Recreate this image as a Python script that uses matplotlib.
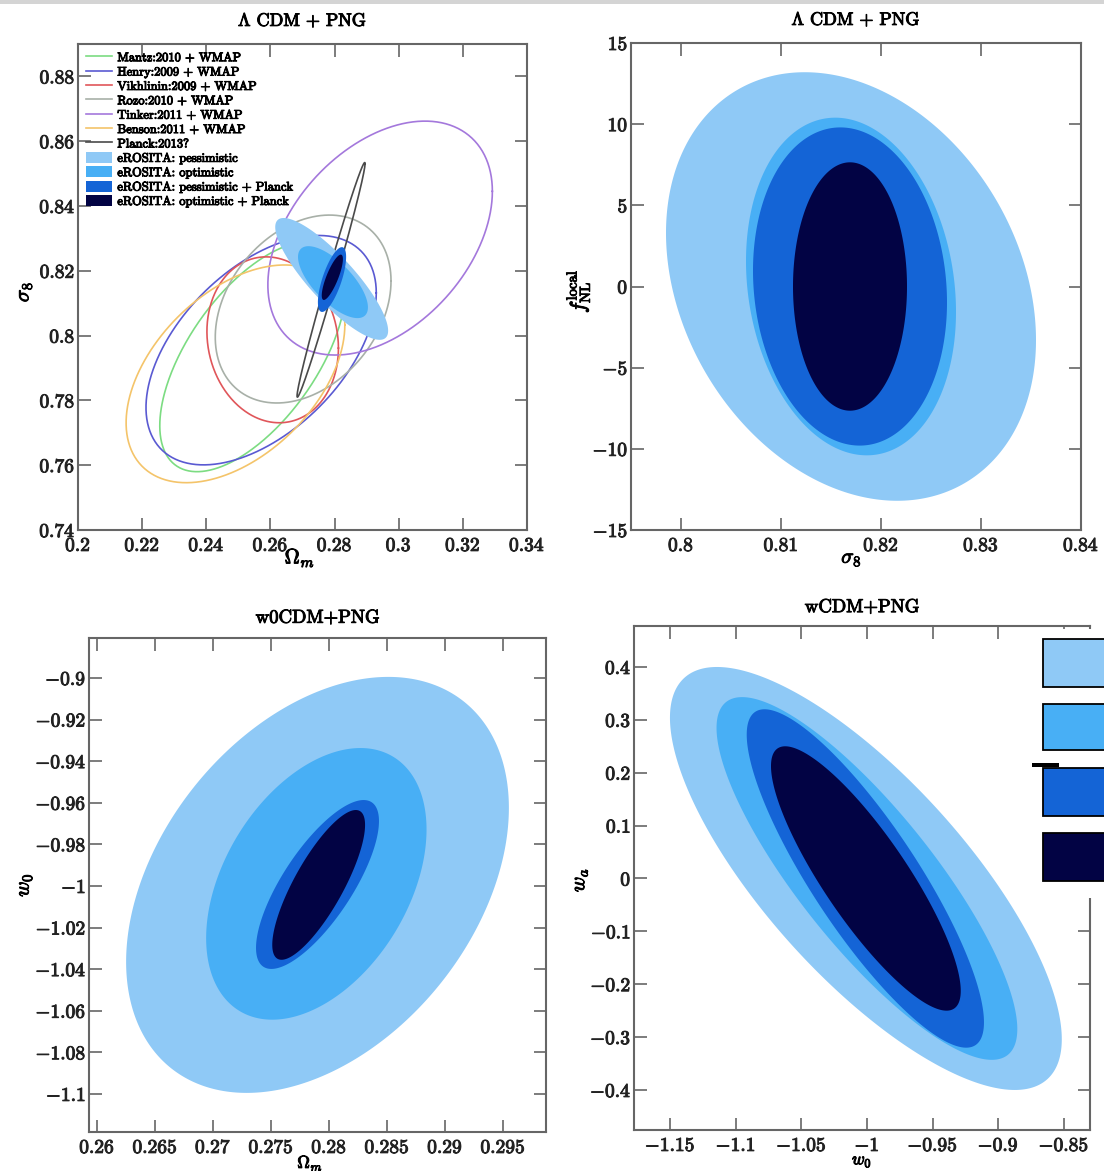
import numpy as np
import matplotlib
matplotlib.use("Agg")
import matplotlib.pyplot as plt
import matplotlib.patheffects as pe
from matplotlib.text import Text
from matplotlib.lines import Line2D
from matplotlib.patches import Patch, Rectangle
from matplotlib.ticker import FixedLocator, FuncFormatter

plt.rcParams.update({
    "font.family": "serif",
    "font.serif": ["cmr10"],
    "mathtext.fontset": "cm",
    "axes.unicode_minus": False,
})

# ---------------------------------------------------------------- data
level_labels = ["eROSITA: pessimistic", "eROSITA: optimistic",
                "eROSITA: pessimistic + Planck", "eROSITA: optimistic + Planck"]
level_colors = ["#8fc9f6", "#48aff5", "#1464d6", "#020344"]

# Contour of each forecast: centre, half-extent along each axis, correlation
# Panel 1: Omega_m - sigma_8 (LambdaCDM + PNG)
om_s8_cx = [0.2791, 0.2795, 0.2792, 0.2793]
om_s8_cy = [0.8175, 0.8165, 0.8173, 0.8180]
om_s8_sx = [0.0176, 0.0109, 0.0044, 0.0033]
om_s8_sy = [0.0188, 0.0111, 0.0100, 0.0070]
om_s8_rho = [-0.85, -0.70, 0.70, 0.80]

# Published cluster constraints overplotted in panel 1
survey_labels = ["Mantz:2010 + WMAP", "Henry:2009 + WMAP", "Vikhlinin:2009 + WMAP",
                 "Rozo:2010 + WMAP", "Tinker:2011 + WMAP", "Benson:2011 + WMAP",
                 "Planck:2013?"]
survey_colors = ["#7cdc82", "#5a5ad2", "#e0565a", "#a8b0a8", "#a478dc", "#f4c46a", "#4a4a4a"]
survey_cx = [0.2545, 0.2571, 0.2607, 0.2702, 0.2942, 0.2491, 0.2789]
survey_cy = [0.7935, 0.7955, 0.7987, 0.8082, 0.8301, 0.7882, 0.8172]
survey_sx = [0.0290, 0.0359, 0.0205, 0.0274, 0.0350, 0.0341, 0.0106]
survey_sy = [0.0355, 0.0354, 0.0256, 0.0290, 0.0361, 0.0336, 0.0362]
survey_rho = [0.60, 0.50, -0.10, 0.30, 0.40, 0.45, 0.99]

# Panel 2: sigma_8 - f_NL (LambdaCDM + PNG)
s8_fnl_cx = [0.8170, 0.8170, 0.8169, 0.8169]
s8_fnl_cy = [0.0, 0.0, 0.0, 0.0]
s8_fnl_sx = [0.0185, 0.0105, 0.0097, 0.0057]
s8_fnl_sy = [13.2, 10.4, 9.8, 7.65]
s8_fnl_rho = [-0.25, -0.15, -0.10, 0.0]

# Panel 3: Omega_m - w0 (w0CDM + PNG)
om_w0_cx = [0.2790, 0.2789, 0.2790, 0.2791]
om_w0_cy = [-0.9995, -0.9990, -0.9993, -0.9995]
om_w0_sx = [0.0165, 0.0095, 0.0053, 0.0040]
om_w0_sy = [0.1000, 0.0653, 0.0406, 0.0360]
om_w0_rho = [0.37, 0.40, 0.75, 0.80]

# Panel 4: w0 - wa (wCDM + PNG)
w0_wa_cx = [-1.0008, -1.0000, -1.0012, -1.0008]
w0_wa_cy = [0.0, 0.0, 0.0, 0.0]
w0_wa_sx = [0.1493, 0.1146, 0.0904, 0.0723]
w0_wa_sy = [0.400, 0.343, 0.320, 0.250]
w0_wa_rho = [-0.76, -0.83, -0.85, -0.85]

# Tick values
p1_xticks = [0.2, 0.22, 0.24, 0.26, 0.28, 0.3, 0.32, 0.34]
p1_yticks = [0.74, 0.76, 0.78, 0.8, 0.82, 0.84, 0.86, 0.88]
p2_xticks = [0.8, 0.81, 0.82, 0.83, 0.84]
p2_yticks = [-15, -10, -5, 0, 5, 10, 15]
p3_xticks = [0.26, 0.265, 0.27, 0.275, 0.28, 0.285, 0.29, 0.295]
p3_yticks = [-1.1, -1.08, -1.06, -1.04, -1.02, -1.0, -0.98, -0.96, -0.94, -0.92, -0.9]
p4_xticks = [-1.15, -1.1, -1.05, -1.0, -0.95, -0.9, -0.85]
p4_yticks = [-0.4, -0.3, -0.2, -0.1, 0.0, 0.1, 0.2, 0.3, 0.4]

# ---------------------------------------------------------------- helpers
W, H = 1104, 1171
fig = plt.figure(figsize=(W / 100, H / 100), dpi=100)
SPINE = "#666666"


def add_ax(left, right, top, bottom):
    return fig.add_axes([left / W, 1 - bottom / H, (right - left) / W, (bottom - top) / H])


def contour_xy(cx, cy, sx, sy, rho, n=400):
    t = np.linspace(0, 2 * np.pi, n)
    x = cx + sx * np.cos(t)
    y = cy + sy * (rho * np.cos(t) + np.sqrt(1 - rho ** 2) * np.sin(t))
    return x, y


def fill_levels(ax, cx, cy, sx, sy, rho):
    for i in range(len(cx)):
        x, y = contour_xy(cx[i], cy[i], sx[i], sy[i], rho[i])
        ax.fill(x, y, color=level_colors[i], lw=0, zorder=3 + i)


def style(ax, xlim, ylim, xticks, yticks):
    ax.set_xlim(xlim)
    ax.set_ylim(ylim)
    ax.xaxis.set_major_locator(FixedLocator(xticks))
    ax.yaxis.set_major_locator(FixedLocator(yticks))
    fmt = FuncFormatter(lambda v, p: f"${v:g}$")
    ax.xaxis.set_major_formatter(fmt)
    ax.yaxis.set_major_formatter(fmt)
    ax.tick_params(which="both", direction="in", length=9, width=1.2, color=SPINE,
                   top=True, right=True, labelsize=14, labelcolor="#222222")
    ax.tick_params(axis="x", pad=5)
    ax.tick_params(axis="y", pad=2)
    for s in ax.spines.values():
        s.set_color(SPINE)
        s.set_linewidth(1.5)


# ---------------------------------------------------------------- panel 1
ax1 = add_ax(78, 527, 44, 530)
style(ax1, (0.2, 0.34), (0.74, 0.89), p1_xticks, p1_yticks)
for i in range(len(survey_labels)):
    x, y = contour_xy(survey_cx[i], survey_cy[i], survey_sx[i], survey_sy[i], survey_rho[i])
    ax1.plot(x, y, color=survey_colors[i], lw=1.2, zorder=2)
fill_levels(ax1, om_s8_cx, om_s8_cy, om_s8_sx, om_s8_sy, om_s8_rho)
ax1.set_title(r"$\Lambda$ CDM + PNG", fontsize=13, pad=13)
ax1.set_xlabel(r"$\Omega_m$", fontsize=15)
ax1.xaxis.set_label_coords(0.494, -0.036)
ax1.set_ylabel(r"$\sigma_8$", fontsize=15)
ax1.yaxis.set_label_coords(-0.098, 0.49)

handles = [Line2D([], [], color=c, lw=1.2) for c in survey_colors]
handles += [Patch(facecolor=c, edgecolor="none") for c in level_colors]
ax1.legend(handles, survey_labels + level_labels, loc="upper left",
           bbox_to_anchor=(0.018, 0.985), frameon=False, fontsize=9,
           handlelength=2.1, handleheight=1.0, handletextpad=0.4,
           labelspacing=0.12, borderpad=0, borderaxespad=0)

# ---------------------------------------------------------------- panel 2
ax2 = add_ax(631, 1081, 43, 530)
style(ax2, (0.795, 0.84), (-15, 15), p2_xticks, p2_yticks)
fill_levels(ax2, s8_fnl_cx, s8_fnl_cy, s8_fnl_sx, s8_fnl_sy, s8_fnl_rho)
ax2.set_title(r"$\Lambda$ CDM + PNG", fontsize=13, pad=13)
ax2.set_xlabel(r"$\sigma_8$", fontsize=15)
ax2.xaxis.set_label_coords(0.49, -0.042)
ax2.set_ylabel(r"$f_{\rm NL}^{\rm local}$", fontsize=15)
ax2.yaxis.set_label_coords(-0.085, 0.49)

# ---------------------------------------------------------------- panel 3
ax3 = add_ax(89, 546, 638, 1132)
style(ax3, (0.2593, 0.2987), (-1.1183, -0.8808), p3_xticks, p3_yticks)
fill_levels(ax3, om_w0_cx, om_w0_cy, om_w0_sx, om_w0_sy, om_w0_rho)
ax3.set_title("w0CDM+PNG", fontsize=13.5, pad=11)
ax3.set_xlabel(r"$\Omega_m$", fontsize=12.5)
ax3.xaxis.set_label_coords(0.484, -0.0445)
ax3.set_ylabel(r"$w_0$", fontsize=15)
ax3.yaxis.set_label_coords(-0.12, 0.5)

# ---------------------------------------------------------------- panel 4
ax4 = add_ax(634, 1090, 626, 1130)
style(ax4, (-1.1775, -0.83), (-0.4757, 0.4775), p4_xticks, p4_yticks)
fill_levels(ax4, w0_wa_cx, w0_wa_cy, w0_wa_sx, w0_wa_sy, w0_wa_rho)
ax4.set_title("wCDM+PNG", fontsize=13.5, pad=10)
ax4.set_xlabel(r"$w_0$", fontsize=12.5)
ax4.xaxis.set_label_coords(0.5, -0.0475)
ax4.set_ylabel(r"$w_a$", fontsize=15)
ax4.yaxis.set_label_coords(-0.097, 0.496)


# ---------------------------------------------------------------- page furniture
def fig_rect(x0, y0, x1, y1, **kw):
    fig.add_artist(Rectangle((x0 / W, 1 - y1 / H), (x1 - x0) / W, (y1 - y0) / H,
                             transform=fig.transFigure, **kw))


fig_rect(0, 0, W, 3.5, facecolor="#d4d4d4", edgecolor="none", zorder=5)
# colour key at the right edge of the wCDM panel
fig_rect(1032, 629, W + 5, 898, facecolor="white", edgecolor="none", zorder=5)
key_rows = [(639, 687), (704, 750), (768, 816), (833, 881)]
for (y0, y1), c in zip(key_rows, level_colors):
    fig_rect(1043, y0, W + 10, y1, facecolor=c, edgecolor="black", lw=1.3, zorder=6)
fig_rect(1032, 763, 1059, 767, facecolor="black", edgecolor="none", zorder=6)

# slightly heavier strokes on all lettering
fig.canvas.draw()
for t in fig.findobj(Text):
    t.set_path_effects([pe.withStroke(linewidth=0.7, foreground=t.get_color())])

fig.savefig("out.png", dpi=100)
